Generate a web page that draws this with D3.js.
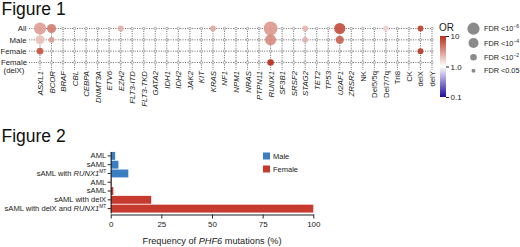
<!DOCTYPE html>
<html><head><meta charset="utf-8">
<script src="https://cdn.jsdelivr.net/npm/d3@7"></script>
<style>body{margin:0;background:#fff}svg{display:block;font-family:"Liberation Sans",Arial,sans-serif}</style>
</head><body><svg id="c" width="520" height="247"></svg>
<script>
// ---------- Figure 1 data ----------
const genes = ["ASXL1","BCOR","BRAF","CBL","CEBPA","DNMT3A","ETV6","EZH2","FLT3-ITD","FLT3-TKD","GATA2","IDH1","IDH2","JAK2","KIT","KRAS","NF1","NPM1","NRAS","PTPN11","RUNX1","SF3B1","SRSF2","STAG2","TET2","TP53","U2AF1","ZRSR2","NK","Del5/5q","Del7/7q","Tri8","CK","delX","delY"];
const italicCount = 28; // first 28 columns are gene names (italic)
const groups = ["All","Male","Female","Female (delX)"];
// significant dots: group, gene, odds ratio, -log10(FDR)
const dotGroup = ["All","All","All","All","All","All","All","All","All","Male","Male","Male","Male","Male","Female","Female","Female (delX)"];
const dotGene  = ["ASXL1","BCOR","EZH2","KRAS","RUNX1","STAG2","U2AF1","Del7/7q","delX","ASXL1","BCOR","RUNX1","STAG2","U2AF1","ASXL1","delX","RUNX1"];
const dotOR    = [2.9,4.2,2.4,2.6,3.1,2.2,7.0,1.6,8.0,2.0,3.0,3.6,2.4,5.5,6.5,9.0,14];
const dotFDR   = [6,3.5,1.8,1.8,8,1.8,5,1.8,1.8,3.5,1.8,5,1.8,3,2,1.8,2];
const orTicks = [10,1,0.1];
const orTickLabels = ["10","1.0","0.1"];
const fdrLegendValues = [6,4,2,1.3];
const fdrLegendLabels = ["6","4","2",null];

// ---------- Figure 2 data ----------
const barLabels = ["AML","sAML","sAML with RUNX1","AML","sAML","sAML with delX","sAML with delX and RUNX1"];
const barSex    = ["Male","Male","Male","Female","Female","Female","Female"];
const barValues = [2.2,3.8,8.7,0.3,1.3,20,100];
const barTicks  = [0,25,50,75,100];
const sexes = ["Male","Female"];

const svg = d3.select("#c");
const ink = "#222";

// Titles
svg.append("text").attr("x",1.5).attr("y",15).attr("font-size",17.5).attr("fill","#111").text("Figure 1");
svg.append("text").attr("x",1.5).attr("y",141.5).attr("font-size",17.5).attr("fill","#111").text("Figure 2");

// ---------- Figure 1 ----------
const x1 = d3.scalePoint().domain(genes).range([40,432]);
const y1 = d3.scalePoint().domain(groups).range([28.5,62.5]);
const orColor = d3.scaleLog().domain([0.1,1,10]).range(["#1e0c9c","#ffffff","#b8301c"]).interpolate(d3.interpolateRgb).clamp(true);
const rScale = d3.scaleLinear().domain([1.3,2,4,6,8]).range([2,3.3,5,6.1,6.9]).clamp(true);

const g1 = svg.append("g");
// grid lines
g1.selectAll("line.h").data(groups).join("line")
  .attr("x1",29).attr("x2",433).attr("y1",d=>y1(d)).attr("y2",d=>y1(d))
  .attr("stroke","#444").attr("stroke-width",0.8).attr("stroke-dasharray","1,1.4");
g1.selectAll("line.v").data(genes).join("line")
  .attr("x1",d=>x1(d)).attr("x2",d=>x1(d)).attr("y1",y1(groups[0])).attr("y2",70)
  .attr("stroke","#444").attr("stroke-width",0.8).attr("stroke-dasharray","1,1.4");
// empty markers
const cells = [];
groups.forEach(gr=>genes.forEach(ge=>cells.push([gr,ge])));
g1.selectAll("circle.e").data(cells).join("circle")
  .attr("cx",d=>x1(d[1])).attr("cy",d=>y1(d[0])).attr("r",1.2)
  .attr("fill","#fff").attr("stroke","#777").attr("stroke-width",0.6);
// dots
const dots = dotGene.map((g,i)=>({g,grp:dotGroup[i],or:dotOR[i],f:dotFDR[i]}));
g1.selectAll("circle.d").data(dots).join("circle")
  .attr("cx",d=>x1(d.g)).attr("cy",d=>y1(d.grp)).attr("r",d=>rScale(d.f))
  .attr("fill",d=>orColor(d.or)).attr("fill-opacity",0.92);
// row labels
groups.forEach(gr=>{
  if(gr==="Female (delX)"){
    const t = g1.append("text").attr("x",14).attr("y",y1(gr)+2.5).attr("text-anchor","middle").attr("font-size",7.8).attr("fill",ink);
    t.append("tspan").attr("x",14).text("Female");
    t.append("tspan").attr("x",14).attr("dy",8).text("(delX)");
  } else {
    g1.append("text").attr("x",26.5).attr("y",y1(gr)+2.8).attr("text-anchor","end").attr("font-size",7.8).attr("fill",ink).text(gr);
  }
});
// column labels
genes.forEach((ge,i)=>{
  g1.append("text").attr("transform",`translate(${x1(ge)+3},71) rotate(-90)`)
    .attr("text-anchor","end").attr("font-size",7.8).attr("fill",ink)
    .attr("font-style",i<italicCount?"italic":"normal").text(ge);
});
// colour bar
const defs = svg.append("defs");
const grad = defs.append("linearGradient").attr("id","orgrad").attr("x1",0).attr("x2",0).attr("y1",0).attr("y2",1);
d3.range(0,1.0001,0.1).forEach(t=>{
  const v = Math.pow(10, 1-2*t);
  grad.append("stop").attr("offset",t).attr("stop-color",orColor(v));
});
const cbY = d3.scaleLog().domain([10,0.1]).range([36,97]);
svg.append("text").attr("x",439).attr("y",31).attr("font-size",10).attr("fill",ink).text("OR");
svg.append("rect").attr("x",440).attr("y",cbY(10)).attr("width",6).attr("height",cbY(0.1)-cbY(10)).attr("fill","url(#orgrad)");
const cbAxis = svg.append("g").attr("transform","translate(446,0)")
  .call(d3.axisRight(cbY).tickValues(orTicks).tickFormat((d,i)=>orTickLabels[i]).tickSize(3));
cbAxis.select(".domain").remove();
cbAxis.selectAll("line").attr("stroke",ink);
cbAxis.selectAll("text").attr("font-size",8).attr("fill",ink).attr("x",4.5).attr("font-family","Liberation Sans, Arial");
// size legend
const sl = svg.append("g");
const slY = [28.7,43,57.3,70.7];
fdrLegendValues.forEach((v,i)=>{
  sl.append("circle").attr("cx",473.5).attr("cy",slY[i]).attr("r",rScale(v)).attr("fill","#8a8a8a");
  const t = sl.append("text").attr("x",484).attr("y",slY[i]+2.6).attr("font-size",7.3).attr("fill",ink);
  if(fdrLegendLabels[i]!==null){
    t.append("tspan").text("FDR <10");
    t.append("tspan").attr("dy",-3).attr("font-size",5).text("\u2212"+fdrLegendLabels[i]);
  } else t.text("FDR <0.05");
});

// ---------- Figure 2 ----------
const x2 = d3.scaleLinear().domain([0,100]).range([110.7,313.3]);
const idx = barLabels.map((d,i)=>i);
const y2 = d3.scaleBand().domain(idx).range([151.5,213]).paddingInner(0.1).paddingOuter(0.05);
const sexColor = d3.scaleOrdinal().domain(sexes).range(["#3b7ec2","#c73a2e"]);
svg.append("g").selectAll("rect").data(idx).join("rect")
  .attr("x",x2(0)).attr("y",i=>y2(i)).attr("height",y2.bandwidth())
  .attr("width",i=>x2(barValues[i])-x2(0)).attr("fill",i=>sexColor(barSex[i]));
const xa = svg.append("g").attr("transform","translate(0,214.5)")
  .call(d3.axisBottom(x2).tickValues(barTicks).tickSize(4).tickSizeOuter(0));
xa.select(".domain").attr("stroke",ink).attr("stroke-width",1.1);
xa.selectAll("line").attr("stroke",ink);
xa.selectAll("text").attr("font-size",8).attr("fill",ink).attr("font-family","Liberation Sans, Arial").attr("y",7);
const ya = svg.append("g").attr("transform",`translate(${x2(0)},0)`)
  .call(d3.axisLeft(y2).tickSize(3).tickSizeOuter(0).tickFormat(()=>""));
ya.select(".domain").attr("stroke",ink).attr("stroke-width",1.1);
ya.selectAll("line").attr("stroke",ink);
ya.selectAll(".tick").each(function(i){
  const t = d3.select(this).select("text").attr("font-size",7.6).attr("fill",ink)
    .attr("font-family","Liberation Sans, Arial").attr("x",-4.5).text(null);
  const lab = barLabels[i];
  if(lab.endsWith("RUNX1")){
    t.append("tspan").text(lab.slice(0,-5));
    t.append("tspan").attr("font-style","italic").text("RUNX1");
    t.append("tspan").attr("dy",-3).attr("font-size",4.8).text("MT");
  } else t.text(lab);
});
// x title
const xt = svg.append("text").attr("x",212).attr("y",244).attr("text-anchor","middle").attr("font-size",9.2).attr("fill",ink);
xt.append("tspan").text("Frequency of ");
xt.append("tspan").attr("font-style","italic").text("PHF6");
xt.append("tspan").text(" mutations (%)");
// legend
sexes.forEach((s,i)=>{
  svg.append("rect").attr("x",263).attr("y",152.5+i*13).attr("width",7).attr("height",7).attr("fill",sexColor(s));
  svg.append("text").attr("x",273).attr("y",159+i*13).attr("font-size",7.5).attr("fill",ink).text(s);
});
</script></body></html>
